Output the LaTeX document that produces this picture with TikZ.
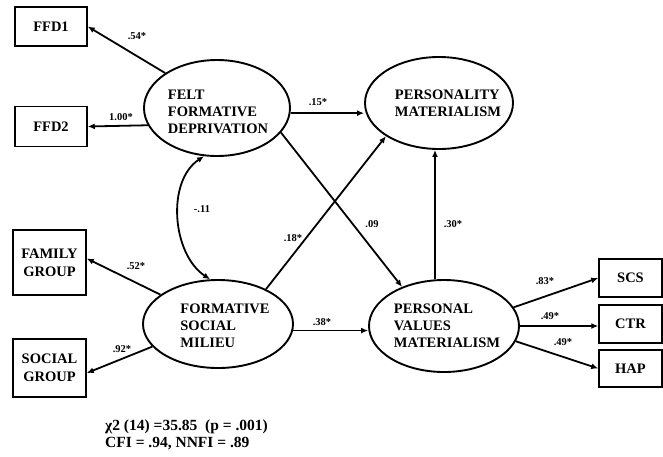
\documentclass[tikz,border=0pt]{standalone}
\usepackage{fontspec}
\setmainfont{Liberation Serif}
\usetikzlibrary{shapes.geometric,arrows.meta,calc}
\begin{document}
\begin{tikzpicture}[x=1pt,y=-1pt,
  lat/.style={ellipse,draw,line width=1.9pt,inner sep=0pt},
  lattext/.style={align=left,font=\fontsize{14.5}{17}\selectfont\bfseries,inner sep=0pt},
  obs/.style={rectangle,draw,line width=1.5pt,inner sep=0pt,align=center,font=\fontsize{14.5}{18}\selectfont\bfseries},
  arr/.style={line width=1.8pt,-{Latex[length=7pt,width=6pt]}},
  coef/.style={font=\fontsize{10.5}{12}\selectfont\bfseries,inner sep=0pt}]
\useasboundingbox (0,0) rectangle (663,456);
% observed boxes
\node[obs,minimum width=72pt,minimum height=39pt] (ffd1) at (51,26.5) {FFD1};
\node[obs,minimum width=72pt,minimum height=40pt] (ffd2) at (51,126.5) {FFD2};
\node[obs,minimum width=73pt,minimum height=65pt] (fam) at (49.5,262.5) {FAMILY\\GROUP};
\node[obs,minimum width=73pt,minimum height=58pt] (soc) at (49.5,368) {SOCIAL\\GROUP};
\node[obs,minimum width=63pt,minimum height=38pt] (scs) at (630.5,278) {SCS};
\node[obs,minimum width=63pt,minimum height=38pt] (ctr) at (630.5,324) {CTR};
\node[obs,minimum width=63pt,minimum height=37pt] (hap) at (630.5,368.5) {HAP};
% latent ellipses
\node[lat,minimum width=146pt,minimum height=96pt] (ffd) at (217,108) {};
\node[lattext] (ffdt) at (218,112) {FELT\\FORMATIVE\\DEPRIVATION};
\node[lat,minimum width=148pt,minimum height=92pt] (pm) at (439,103) {};
\node[lattext] (pmt) at (448,103) {PERSONALITY\\MATERIALISM};
\node[lat,minimum width=150pt,minimum height=88pt] (fsm) at (218,324) {};
\node[lattext] (fsmt) at (225,326) {FORMATIVE\\SOCIAL\\MILIEU};
\node[lat,minimum width=150pt,minimum height=92pt] (pvm) at (444,326) {};
\node[lattext] (pvmt) at (447,326) {PERSONAL\\VALUES\\MATERIALISM};
% connectors
\draw[arr] (ffd.146) -- (ffd1.east);
\draw[arr] (ffd.194) -- (ffd2.east);
\draw[arr] (ffd.-4) -- (ffd.-4 -| pm.west);
\draw[arr] (ffd.-21) -- (pvm.137);
\draw[arr] ($(pvm.north)+(-9,0)$) -- ($(pm.south)+(-4,0)$);
\draw[arr] (fsm.36) -- (pm.212);
\draw[arr] (fsm.-5) -- (pvm.west |- fsm.-5);
\draw[arr] (fsm.153) -- ([yshift=4pt]fam.east);
\draw[arr] (fsm.199) -- ([yshift=-5pt]soc.east);
\draw[arr] (pvm.15) -- (scs.west);
\draw[arr] (pvm.east) -- (ctr.west |- pvm.east);
\draw[arr] (pvm.-12) -- (hap.west);
\draw[line width=1.8pt,{Latex[length=7pt,width=6pt]}-{Latex[length=7pt,width=6pt]}]
  (ffd.255) .. controls +(-38,25) and +(-38,-25) .. (fsm.100);
% coefficients
\node[coef] (c1) at (137,36) {.54*};
\node[coef] (c2) at (121,117) {1.00*};
\node[coef] (c3) at (318,102) {.15*};
\node[coef] (c4) at (202,209) {-.11};
\node[coef] (c5) at (293,238) {.18*};
\node[coef] (c6) at (372,224) {.09};
\node[coef] (c7) at (453,224) {.30*};
\node[coef] (c8) at (136,266) {.52*};
\node[coef] (c9) at (122,349) {.92*};
\node[coef] (c10) at (322,322) {.38*};
\node[coef] (c11) at (545,281) {.83*};
\node[coef] (c12) at (550,316) {.49*};
\node[coef] (c13) at (563,342) {.49*};
% fit statistics
\node[anchor=west,align=left,inner sep=0pt,font=\fontsize{15.5}{16.5}\selectfont\bfseries] (fit) at (105,435)
  {χ2 (14) =35.85\enspace (p = .001)\\CFI = .94, NNFI = .89};
\end{tikzpicture}
\end{document}
